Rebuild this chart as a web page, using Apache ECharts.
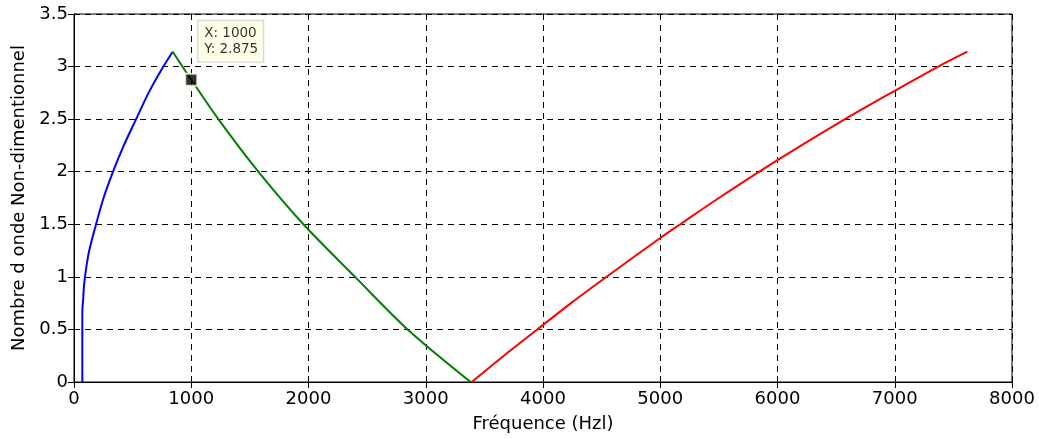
<!DOCTYPE html>
<html>
<head>
<meta charset="utf-8">
<script src="https://cdn.jsdelivr.net/npm/echarts@6/dist/echarts.min.js"></script>
<style>
html,body{margin:0;padding:0;background:#fff;}
#c{width:1039px;height:439px;}
</style>
</head>
<body>
<div id="c"></div>
<script>
// Blue branch (frequency Hz, non-dimensional wavenumber)
var blueF = [71, 71, 72, 78, 84, 94, 106, 130, 188, 252, 333, 425, 530, 636, 762, 842];
var blueK = [0, 0.64, 0.70, 0.78, 0.9, 1.0, 1.1, 1.25, 1.5, 1.75, 2.0, 2.25, 2.5, 2.75, 3.0, 3.1416];
// Green branch
var greenF = [842, 1000, 1231, 1572, 1956, 2397, 2845, 3383];
var greenK = [3.1416, 2.875, 2.5, 2.0, 1.5, 1.0, 0.5, 0];
// Red branch
var redF = [3392, 3700, 3940, 4250, 4566, 5000, 5183, 5500, 6000, 6576, 7000, 7371, 7619];
var redK = [0, 0.28, 0.49, 0.76, 1.02, 1.37, 1.51, 1.75, 2.11, 2.50, 2.77, 3.00, 3.1416];
// Data tip
var tipX = 1000;
var tipY = 2.875;

var xTicks = [0, 1000, 2000, 3000, 4000, 5000, 6000, 7000, 8000];
var yTicks = [0, 0.5, 1, 1.5, 2, 2.5, 3, 3.5];

function pairs(xs, ys) { return xs.map(function (x, i) { return [x, ys[i]]; }); }

var FONT = 'DejaVu Sans';
var chart = echarts.init(document.getElementById('c'), null, {renderer: 'canvas'});
var gridDash = {color: '#000', width: 1, type: [6, 5]};
chart.setOption({
  animation: false,
  backgroundColor: '#fff',
  textStyle: {fontFamily: FONT},
  grid: {left: 74, right: 27, top: 14, bottom: 57, show: true, borderColor: '#000', borderWidth: 1},
  xAxis: [{
    type: 'value', min: xTicks[0], max: xTicks[xTicks.length - 1], interval: 1000,
    name: 'Fréquence (Hzl)', nameLocation: 'middle', nameGap: 33,
    nameTextStyle: {fontFamily: FONT, fontSize: 18, color: '#000'},
    axisLine: {show: true, lineStyle: {color: '#000', width: 1}},
    axisTick: {show: true, inside: true, length: 6, lineStyle: {color: '#000'}},
    axisLabel: {fontFamily: FONT, fontSize: 18, color: '#000', margin: 8,
                formatter: function (v) { return String(v); }},
    splitLine: {show: true, lineStyle: gridDash}
  }, {
    type: 'value', position: 'top', min: 0, max: 8000, interval: 1000,
    axisLine: {show: true, lineStyle: {color: '#000'}},
    axisTick: {show: true, inside: true, length: 6, lineStyle: {color: '#000'}},
    axisLabel: {show: false}, splitLine: {show: false}
  }],
  yAxis: [{
    type: 'value', min: yTicks[0], max: yTicks[yTicks.length - 1], interval: 0.5,
    name: 'Nombre d onde Non-dimentionnel', nameLocation: 'middle', nameGap: 46,
    nameTextStyle: {fontFamily: FONT, fontSize: 18, color: '#000'},
    axisLine: {show: true, lineStyle: {color: '#000', width: 1}},
    axisTick: {show: true, inside: true, length: 6, lineStyle: {color: '#000'}},
    axisLabel: {fontFamily: FONT, fontSize: 18, color: '#000', margin: 6},
    splitLine: {show: true, lineStyle: gridDash}
  }, {
    type: 'value', position: 'right', min: 0, max: 3.5, interval: 0.5,
    axisLine: {show: true, lineStyle: {color: '#000'}},
    axisTick: {show: true, inside: true, length: 6, lineStyle: {color: '#000'}},
    axisLabel: {show: false}, splitLine: {show: false}
  }],
  series: [
    {type: 'line', data: pairs(blueF, blueK), showSymbol: false, smooth: 0.3,
     lineStyle: {color: '#0000FF', width: 2}, itemStyle: {color: '#0000FF'}},
    {type: 'line', data: pairs(greenF, greenK), showSymbol: false, smooth: 0.3,
     lineStyle: {color: '#008000', width: 2}, itemStyle: {color: '#008000'}},
    {type: 'line', data: pairs(redF, redK), showSymbol: false, smooth: 0.3,
     lineStyle: {color: '#FF0000', width: 2}, itemStyle: {color: '#FF0000'}},
    {type: 'scatter', data: [[tipX, tipY]], symbol: 'rect', symbolSize: 12, z: 10,
     itemStyle: {color: '#000', borderColor: '#FFFFE1', borderWidth: 2},
     label: {
       show: true, position: [14, -52],
       formatter: 'X: ' + tipX + '\nY: ' + tipY,
       fontFamily: FONT, fontSize: 13.5, lineHeight: 16, color: '#000',
       align: 'left', verticalAlign: 'top',
       backgroundColor: '#FFFFE1', borderColor: '#C8C8C8', borderWidth: 1,
       padding: [5, 5, 4, 6]
     }}
  ]
});
</script>
</body>
</html>
